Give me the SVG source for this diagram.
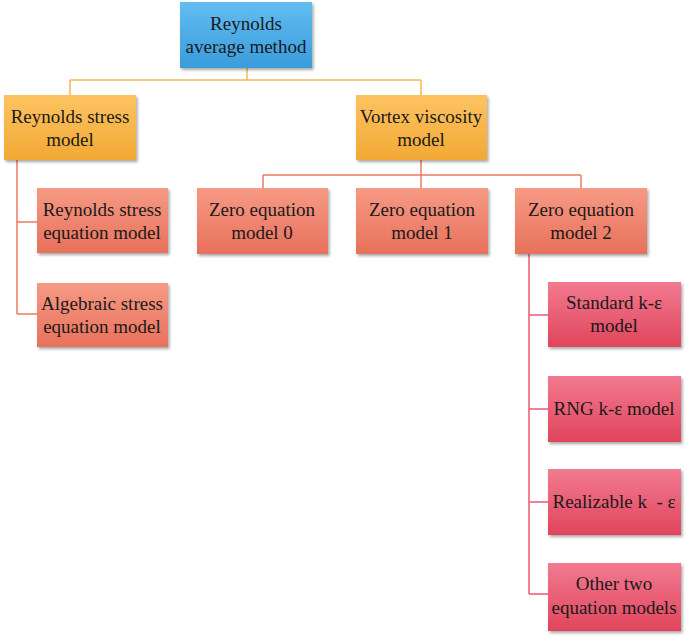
<svg xmlns="http://www.w3.org/2000/svg" width="685" height="636" viewBox="0 0 685 636">
<defs>
<linearGradient id="gBlue" x1="0" y1="0" x2="0" y2="1"><stop offset="0" stop-color="#62bdf0"/><stop offset="1" stop-color="#3a9cdc"/></linearGradient>
<linearGradient id="gOrange" x1="0" y1="0" x2="0" y2="1"><stop offset="0" stop-color="#fdc362"/><stop offset="1" stop-color="#f2a934"/></linearGradient>
<linearGradient id="gSalmon" x1="0" y1="0" x2="0" y2="1"><stop offset="0" stop-color="#f69a85"/><stop offset="1" stop-color="#e8715b"/></linearGradient>
<linearGradient id="gRed" x1="0" y1="0" x2="0" y2="1"><stop offset="0" stop-color="#f27a90"/><stop offset="1" stop-color="#e0455c"/></linearGradient>
<filter id="sh" x="-10%" y="-10%" width="125%" height="130%"><feDropShadow dx="1.5" dy="2" stdDeviation="1.5" flood-color="#000" flood-opacity="0.35"/></filter>
</defs>
<style>
text{font-family:"Liberation Serif","Times New Roman",serif;font-size:19px;fill:#1a1a1a;text-anchor:middle}
.box{filter:url(#sh)}
.c{fill:none;stroke-width:1.5}
.co{stroke:#f5b655}
.cs{stroke:#ec7c66}
.cr{stroke:#ea5a72}
</style>
<g id="connectors">
<path class="c co" d="M247,68V80M70,80H421M70,80V95M421,80V95"/>
<path class="c cs" d="M17,160V314M17,222H37M17,314H37"/>
<path class="c cs" d="M421,160V175M263,175H581M263,175V188M421,175V188M581,175V188"/>
<path class="c cr" d="M529,254V594M529,315H548M529,409H548M529,502H548M529,594H548"/>
</g>
<g id="root"><rect class="box" x="180" y="2" width="132" height="66" fill="url(#gBlue)"/><text x="246" y="30">Reynolds</text><text x="246" y="53">average method</text></g>
<g id="rsm"><rect class="box" x="4" y="95" width="132" height="65" fill="url(#gOrange)"/><text x="70" y="123">Reynolds stress</text><text x="70" y="146">model</text></g>
<g id="vvm"><rect class="box" x="356" y="95" width="131" height="65" fill="url(#gOrange)"/><text x="421" y="123">Vortex viscosity</text><text x="421" y="146">model</text></g>
<g id="rsem"><rect class="box" x="37" y="188" width="131" height="65" fill="url(#gSalmon)"/><text x="102" y="216">Reynolds stress</text><text x="102" y="239">equation model</text></g>
<g id="asem"><rect class="box" x="37" y="283" width="131" height="64" fill="url(#gSalmon)"/><text x="102" y="310">Algebraic stress</text><text x="102" y="333">equation model</text></g>
<g id="zem0"><rect class="box" x="197" y="188" width="131" height="66" fill="url(#gSalmon)"/><text x="262" y="216">Zero equation</text><text x="262" y="239">model 0</text></g>
<g id="zem1"><rect class="box" x="356" y="188" width="132" height="66" fill="url(#gSalmon)"/><text x="422" y="216">Zero equation</text><text x="422" y="239">model 1</text></g>
<g id="zem2"><rect class="box" x="515" y="188" width="132" height="66" fill="url(#gSalmon)"/><text x="581" y="216">Zero equation</text><text x="581" y="239">model 2</text></g>
<g id="ske"><rect class="box" x="548" y="282" width="133" height="65" fill="url(#gRed)"/><text x="614" y="309">Standard k-ε</text><text x="614" y="332">model</text></g>
<g id="rng"><rect class="box" x="548" y="376" width="133" height="66" fill="url(#gRed)"/><text x="614" y="415">RNG k-ε model</text></g>
<g id="rke"><rect class="box" x="548" y="469" width="133" height="66" fill="url(#gRed)"/><text x="614" y="508" xml:space="preserve">Realizable k  - ε</text></g>
<g id="other"><rect class="box" x="548" y="563" width="133" height="68" fill="url(#gRed)"/><text x="614" y="590">Other two</text><text x="614" y="614">equation models</text></g>
</svg>
